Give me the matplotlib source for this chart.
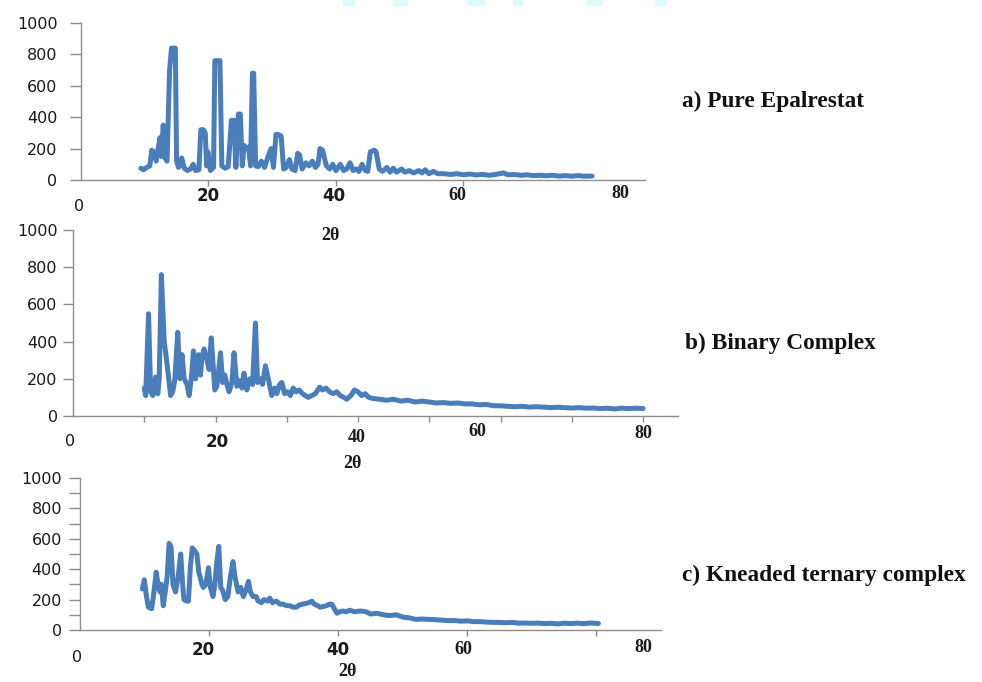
"""
XRD patterns: a) pure epalrestat, b) binary complex, c) kneaded ternary complex.
Three stacked Excel-style panels with the sample name on the right.
Output: out.png (982x682)
"""
import matplotlib
matplotlib.use("Agg")
import matplotlib.pyplot as plt
from matplotlib.patches import Rectangle

W, H = 982, 682
BLUE = "#4a7ebb"
SPINE = "#8e8e8e"
INK = "#1a1a1a"

# ── data (2θ, intensity) ─────────────────────────────────────────────────────
a_2theta = [9.4, 9.8, 10.3, 10.8, 11.1, 11.4, 11.8, 12.1, 12.4, 12.6, 12.9, 13.2, 13.5,
            13.9, 14.2, 14.4, 14.8, 15.0, 15.3, 15.8, 16.2, 16.7, 17.2, 17.6, 18.0, 18.5,
            18.8, 19.2, 19.5, 19.7, 19.9, 20.3, 20.8, 21.0, 21.4, 21.8, 22.1, 22.6, 23.1,
            23.6, 24.0, 24.3, 24.7, 25.0, 25.3, 25.6, 25.9, 26.3, 26.6, 26.9, 27.1, 27.4,
            27.8, 28.3, 28.8, 29.2, 29.8, 30.2, 30.6, 30.9, 31.4, 31.8, 32.2, 32.7, 33.1,
            33.6, 34.0, 34.3, 34.7, 35.3, 35.8, 36.3, 36.8, 37.2, 37.5, 37.9, 38.5, 39.0,
            39.5, 40.0, 40.7, 41.2, 41.7, 42.2, 42.7, 43.2, 43.6, 44.1, 44.6, 45.0, 45.4,
            46.0, 46.3, 46.8, 47.3, 48.0, 48.5, 49.0, 49.5, 50.3, 50.8, 51.5, 52.2, 53.0,
            53.5, 54.0, 54.6, 55.3, 56.0, 57.0, 58.0, 59.0, 60.0, 61.0, 62.0, 63.0, 64.0,
            65.0, 66.3, 67.0, 68.0, 69.0, 70.0, 71.0, 72.0, 73.0, 74.0, 75.0, 76.0, 77.0,
            78.0, 79.0, 80.2]
a_counts = [75, 65, 80, 90, 190, 180, 120, 200, 270, 150, 350, 140, 120,
            700, 840, 840, 840, 120, 80, 140, 75, 60, 70, 100, 60, 65,
            320, 320, 300, 90, 180, 60, 80, 760, 760, 760, 90, 75, 85,
            380, 380, 80, 420, 420, 90, 220, 200, 210, 90, 680, 680, 90,
            85, 120, 80, 130, 200, 80, 290, 290, 280, 70, 80, 130, 70,
            60, 170, 160, 70, 110, 90, 120, 80, 100, 200, 190, 90, 70,
            100, 60, 100, 60, 70, 110, 60, 70, 55, 100, 60, 55, 180,
            190, 180, 70, 55, 80, 50, 75, 50, 70, 50, 60, 45, 60,
            45, 65, 40, 55, 40, 40, 35, 40, 33, 38, 32, 36, 30,
            35, 45, 33, 35, 30, 33, 28, 30, 27, 30, 25, 28, 24,
            28, 24, 25]

b_2theta = [10.0, 10.2, 10.6, 10.9, 11.2, 11.6, 11.9, 12.1, 12.4, 12.8, 13.2, 13.7, 14.0,
            14.3, 14.7, 15.0, 15.3, 15.6, 16.0, 16.3, 16.6, 16.9, 17.2, 17.6, 17.9, 18.1,
            18.4, 18.8, 19.1, 19.4, 19.9, 20.2, 20.7, 21.0, 21.3, 21.6, 21.9, 22.3, 22.6,
            23.0, 23.4, 23.7, 24.0, 24.4, 24.8, 25.2, 25.6, 25.9, 26.3, 26.6, 27.0, 27.4,
            27.9, 28.3, 28.6, 29.0, 29.3, 29.7, 30.1, 30.5, 30.9, 31.3, 31.7, 32.2, 32.6,
            33.0, 33.5, 34.0, 34.6, 35.0, 35.5, 36.0, 36.5, 37.0, 37.5, 38.0, 38.4, 39.0,
            39.5, 40.0, 40.5, 41.0, 41.5, 42.0, 43.0, 44.0, 45.0, 46.0, 47.0, 48.0, 49.0,
            50.0, 51.0, 52.0, 53.0, 54.0, 55.0, 56.0, 57.0, 58.0, 59.0, 60.0, 61.0, 62.0,
            63.0, 64.0, 65.0, 66.0, 67.0, 68.0, 69.0, 70.0, 71.0, 72.0, 73.0, 74.0, 75.0,
            76.0, 77.0, 78.0, 79.0, 80.0]
b_counts = [150, 110, 550, 130, 110, 210, 120, 200, 760, 400, 280, 110, 130,
            200, 450, 200, 330, 200, 170, 110, 200, 350, 200, 330, 220, 320,
            360, 300, 250, 420, 140, 160, 340, 180, 220, 170, 130, 180, 340,
            160, 190, 150, 230, 140, 200, 170, 500, 180, 200, 170, 270, 200,
            110, 150, 120, 170, 180, 120, 130, 110, 150, 130, 140, 120, 110,
            100, 110, 120, 155, 140, 150, 130, 120, 130, 110, 100, 90, 110,
            140, 130, 110, 120, 100, 95, 90, 85, 90, 80, 85, 75, 80,
            75, 70, 72, 68, 70, 65, 65, 60, 62, 55, 55, 52, 50,
            52, 48, 50, 48, 45, 47, 45, 43, 45, 42, 43, 40, 42,
            38, 42, 40, 42, 40]

c_2theta = [9.65, 9.96, 10.3, 10.6, 11.1, 11.4, 11.8, 12.1, 12.4, 12.6, 12.9, 13.2, 13.5,
            13.8, 14.1, 14.4, 14.8, 15.2, 15.6, 15.9, 16.1, 16.5, 16.8, 17.1, 17.4, 17.8,
            18.1, 18.4, 18.6, 18.9, 19.1, 19.5, 19.9, 20.2, 20.6, 20.9, 21.2, 21.5, 21.8,
            22.1, 22.5, 22.9, 23.3, 23.7, 24.0, 24.5, 24.9, 25.3, 25.7, 26.1, 26.4, 26.8,
            27.3, 27.6, 28.1, 28.5, 29.0, 29.4, 29.8, 30.4, 31.0, 31.5, 32.0, 32.5, 33.0,
            33.5, 34.0, 34.5, 35.0, 35.5, 35.9, 36.3, 36.8, 37.2, 37.7, 38.2, 38.6, 39.0,
            39.4, 39.8, 40.2, 40.7, 41.2, 41.8, 42.5, 43.5, 44.3, 45.0, 46.0, 47.0, 48.0,
            49.0, 50.0, 51.0, 52.0, 53.0, 54.0, 55.0, 56.0, 57.0, 58.0, 59.0, 60.0, 61.0,
            62.0, 63.0, 64.0, 65.0, 66.0, 67.0, 68.0, 69.0, 70.0, 71.0, 72.0, 73.0, 74.0,
            75.0, 76.0, 77.0, 78.0, 79.0, 80.3]
c_counts = [270, 330, 220, 150, 140, 230, 380, 300, 250, 300, 160, 250, 350,
            570, 550, 300, 250, 350, 500, 300, 200, 190, 190, 420, 540, 520,
            500, 380, 350, 300, 280, 300, 410, 280, 220, 300, 450, 550, 280,
            260, 200, 220, 350, 450, 350, 250, 280, 220, 260, 320, 250, 220,
            220, 190, 180, 200, 190, 210, 180, 190, 170, 170, 160, 160, 150,
            150, 165, 170, 175, 180, 190, 170, 160, 150, 155, 160, 170, 170,
            140, 110, 120, 125, 120, 130, 120, 125, 120, 105, 110, 100, 95,
            100, 85, 80, 70, 72, 70, 68, 65, 62, 62, 58, 60, 55,
            55, 52, 50, 50, 48, 50, 45, 46, 44, 45, 42, 44, 40,
            45, 42, 45, 42, 46, 43]

yticks = [0, 200, 400, 600, 800, 1000]
xtick_text = ["0", "20", "40", "60", "80"]
names = ["a) Pure Epalrestat", "b) Binary Complex", "c) Kneaded ternary complex"]

fig = plt.figure(figsize=(W / 100, H / 100), dpi=100)


def px_axes(left, right, top, bottom):
    # axes placed from pixel edges of the reference
    return fig.add_axes([left / W, 1 - bottom / H, (right - left) / W, (bottom - top) / H])


def ptext(x, y, s, fs=11, fam="DejaVu Sans", w="normal", color=INK):
    fig.text(x / W, 1 - y / H, s, ha="center", va="center", fontsize=fs,
             family=fam, fontweight=w, color=color)


def panel(ax, xs, ys, xmax, xt, tlen, tpad, minor_y=False):
    ax.plot(xs, ys, color=BLUE, lw=3.6, solid_joinstyle="round", solid_capstyle="round")
    ax.set_xlim(0, xmax)
    ax.set_ylim(0, 1000)
    for s in ("top", "right"):
        ax.spines[s].set_visible(False)
    for s in ("left", "bottom"):
        ax.spines[s].set_color(SPINE)
        ax.spines[s].set_linewidth(1.0)
    ax.set_yticks(yticks)
    ax.set_yticklabels([str(v) for v in yticks])
    ax.tick_params(axis="y", length=tlen, width=1, color=SPINE, pad=tpad,
                   labelsize=11.5, labelcolor=INK)
    if minor_y:
        ax.set_yticks(range(100, 1000, 200), minor=True)
        ax.tick_params(axis="y", which="minor", length=tlen, width=1, color=SPINE)
    ax.set_xticks(xt)
    ax.set_xticklabels([])
    ax.tick_params(axis="x", length=4, width=1, color=SPINE, direction="out")
    ax.patch.set_alpha(0)


# ── a) ───────────────────────────────────────────────────────────────────────
ax_a = px_axes(81, 645, 23, 180)
panel(ax_a, a_2theta, a_counts, 88.5, [20, 40, 60], 8, 9)
ptext(79, 207, xtick_text[0], 11.5)
ptext(208, 196, xtick_text[1], 12, w="bold")
ptext(334, 196, xtick_text[2], 12, w="bold")
ptext(457, 196, xtick_text[3], 13, fam="Liberation Serif", w="bold")
ptext(620, 193, xtick_text[4], 13, fam="Liberation Serif", w="bold")
ptext(330, 235, "2θ", 13, fam="Liberation Serif", w="bold")

# ── b) ───────────────────────────────────────────────────────────────────────
ax_b = px_axes(73, 678, 230, 416)
panel(ax_b, b_2theta, b_counts, 84.9, list(range(10, 81, 10)), 7, 4)
ptext(70, 442, xtick_text[0], 11.5)
ptext(217, 442, xtick_text[1], 12, w="bold")
ptext(357, 437, xtick_text[2], 13, fam="Liberation Serif", w="bold")
ptext(477, 431, xtick_text[3], 13, fam="Liberation Serif", w="bold")
ptext(643, 433, xtick_text[4], 13, fam="Liberation Serif", w="bold")
ptext(352, 463, "2θ", 13, fam="Liberation Serif", w="bold")

# ── c) ───────────────────────────────────────────────────────────────────────
ax_c = px_axes(80, 661, 478, 630)
panel(ax_c, c_2theta, c_counts, 90, [20, 40, 60, 80], 8, 5, minor_y=True)
ptext(77, 657, xtick_text[0], 11.5)
ptext(203, 650, xtick_text[1], 12, w="bold")
ptext(338, 650, xtick_text[2], 12, w="bold")
ptext(463, 650, xtick_text[3], 13, fam="Liberation Serif", w="bold")
ptext(643, 647, xtick_text[4], 13, fam="Liberation Serif", w="bold")
ptext(347, 672, "2θ", 13, fam="Liberation Serif", w="bold")

# ── sample names on the right ────────────────────────────────────────────────
for (x, y), s in zip([(682, 101), (685, 343), (682, 575)], names):
    fig.text(x / W, 1 - y / H, s, ha="left", va="center", fontsize=16.8,
             family="Liberation Serif", fontweight="bold", color="#111111")

# faint cyan scraps along the top edge (page crop)
for x0, x1 in [(343, 355), (393, 408), (467, 485), (513, 523), (587, 603), (655, 667)]:
    fig.patches.append(Rectangle((x0 / W, 1 - 6 / H), (x1 - x0) / W, 6 / H,
                                 transform=fig.transFigure, color="#dcfbfb", lw=0))

fig.savefig("out.png", dpi=100)
